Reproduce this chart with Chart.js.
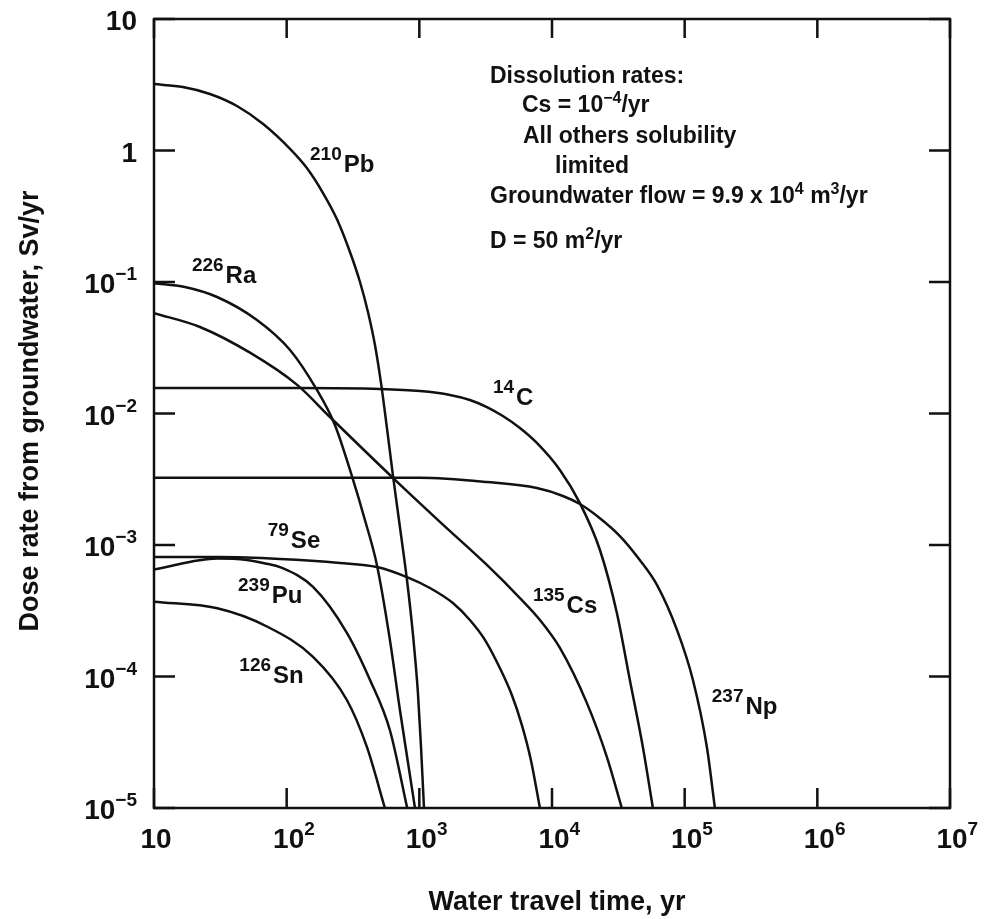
<!DOCTYPE html>
<html>
<head>
<meta charset="utf-8">
<title>Dose rate from groundwater</title>
<script src="https://cdn.jsdelivr.net/npm/chart.js@4.4.1/dist/chart.umd.min.js"></script>
<style>
  html, body { margin: 0; padding: 0; background: #fff; }
  #wrap { width: 986px; height: 919px; }
</style>
</head>
<body>
<div id="wrap"><canvas id="myChart" width="986" height="919"></canvas></div>
<script>
// water travel time (yr) vs dose rate (Sv/yr)
const pb210Time = [10, 16.5, 26.4, 42.2, 66.5, 106, 142, 188, 239, 300, 357, 410, 463, 514, 570, 632, 714, 807, 896, 976, 1028, 1084];
const pb210Dose = [3.2, 3.04, 2.69, 2.18, 1.59, 1.03, 0.736, 0.475, 0.301, 0.169, 0.1, 0.0592, 0.0332, 0.0171, 0.00776, 0.0034, 0.00137, 5.42e-4, 2.07e-4, 7.5e-5, 3.0e-5, 1e-5];

const ra226Time = [10, 17.1, 29.9, 59.7, 106, 169, 231, 310, 389, 479, 600, 714, 820, 927];
const ra226Dose = [0.098, 0.0916, 0.0769, 0.0514, 0.0304, 0.0151, 0.00818, 0.00335, 0.00155, 7.05e-4, 1.9e-4, 5.56e-5, 2.24e-5, 1e-5];

const cs135Time = [10, 22.2, 52.9, 120, 212, 632, 1429, 3230, 5730, 8110, 11470, 18300, 25900, 33600];
const cs135Dose = [0.058, 0.0455, 0.029, 0.0165, 0.0094, 0.00324, 0.0015, 7.05e-4, 3.95e-4, 2.69e-4, 1.65e-4, 6.3e-5, 2.45e-5, 1e-5];

const c14Time = [10, 126, 505, 1012, 1702, 2404, 3230, 4263, 5730, 7690, 11470, 16230, 22950, 30830, 38620, 48400, 57600];
const c14Dose = [0.0156, 0.0156, 0.01535, 0.0148, 0.01383, 0.01267, 0.0112, 0.00957, 0.00776, 0.00597, 0.00372, 0.00208, 9.2e-4, 3.04e-4, 9.4e-5, 2.91e-5, 1e-5];

const np237Time = [10, 1012, 3230, 7690, 12080, 16230, 22950, 32500, 45900, 61800, 87500, 115400, 147000, 169000];
const np237Dose = [0.00324, 0.00324, 0.00301, 0.00271, 0.00236, 0.00205, 0.0016, 0.00117, 7.69e-4, 4.97e-4, 2.26e-4, 9.4e-5, 2.91e-5, 1e-5];

const se79Time = [10, 31.4, 89, 252, 479, 807, 1202, 1790, 2404, 3120, 4045, 4990, 5930, 6930, 8110];
const se79Dose = [8.1e-4, 8.1e-4, 7.83e-4, 7.3e-4, 6.8e-4, 5.7e-4, 4.71e-4, 3.62e-4, 2.69e-4, 1.9e-4, 1.16e-4, 7.2e-5, 4.27e-5, 2.32e-5, 1e-5];

const pu239Time = [10, 30, 50, 71, 89, 158, 285, 425, 600, 810];
const pu239Dose = [6.5e-4, 7.9e-4, 7.7e-4, 7.2e-4, 6.8e-4, 4.8e-4, 2.14e-4, 9.4e-5, 3.9e-5, 1e-5];

const sn126Time = [10, 30, 71, 158, 285, 403, 550];
const sn126Dose = [3.7e-4, 3.3e-4, 2.4e-4, 1.41e-4, 6.6e-5, 2.9e-5, 1e-5];

// curve labels: mass number, element, and where the label sits (data units)
const nuclideMass = ["210", "226", "14", "79", "239", "126", "135", "237"];
const nuclideSymbol = ["Pb", "Ra", "C", "Se", "Pu", "Sn", "Cs", "Np"];
const labelTime = [150, 19.3, 3590, 72, 43, 44, 7180, 160000];
const labelDose = [0.687, 0.098, 0.0116, 9.5e-4, 3.62e-4, 8.9e-5, 3.04e-4, 5.2e-5];

// axis decades and their labels (base, exponent)
const xDecades = [10, 100, 1e3, 1e4, 1e5, 1e6, 1e7];
const xTickLabels = [["10", ""], ["10", "2"], ["10", "3"], ["10", "4"], ["10", "5"], ["10", "6"], ["10", "7"]];
const yDecades = [10, 1, 0.1, 0.01, 1e-3, 1e-4, 1e-5];
const yTickLabels = [["10", ""], ["1", ""], ["10", "\u22121"], ["10", "\u22122"], ["10", "\u22123"], ["10", "\u22124"], ["10", "\u22125"]];

const FAMILY = '"Liberation Sans", Arial, sans-serif';
const font = (px) => "bold " + px + "px " + FAMILY;

function curve(times, doses) {
  return {
    data: times.map((t, i) => ({ x: t, y: doses[i] })),
    showLine: true,
    borderColor: "#111",
    borderWidth: 2.5,
    pointRadius: 0,
    fill: false,
    cubicInterpolationMode: "monotone",
  };
}

// draw a run of [text, isSuperscript] parts, returns width
function runs(ctx, parts, size, supSize, raise, x, y, draw) {
  let cx = x;
  parts.forEach(([t, sup]) => {
    ctx.font = font(sup ? supSize : size);
    if (draw) ctx.fillText(t, cx, sup ? y - raise : y);
    cx += ctx.measureText(t).width;
  });
  return cx - x;
}

const decor = {
  id: "decor",
  afterDatasetsDraw(chart) {
    const { ctx, chartArea: a, scales: { x, y } } = chart;
    ctx.save();
    ctx.strokeStyle = "#111";
    ctx.fillStyle = "#111";
    ctx.lineWidth = 2.5;
    ctx.strokeRect(a.left, a.top, a.right - a.left, a.bottom - a.top);

    // inward ticks on all four sides
    ctx.beginPath();
    yDecades.forEach((v) => {
      const py = y.getPixelForValue(v);
      ctx.moveTo(a.left, py); ctx.lineTo(a.left + 21, py);
      ctx.moveTo(a.right, py); ctx.lineTo(a.right - 21, py);
    });
    xDecades.forEach((v) => {
      const px = x.getPixelForValue(v);
      ctx.moveTo(px, a.top); ctx.lineTo(px, a.top + 19);
      ctx.moveTo(px, a.bottom); ctx.lineTo(px, a.bottom - 20);
    });
    ctx.stroke();

    ctx.textAlign = "left";
    ctx.textBaseline = "alphabetic";

    // y tick labels
    yDecades.forEach((v, i) => {
      const py = y.getPixelForValue(v);
      const parts = [[yTickLabels[i][0], false], [yTickLabels[i][1], true]];
      const w = runs(ctx, parts, 28, 19, 13, 0, 0, false);
      runs(ctx, parts, 28, 19, 13, a.left - 17 - w, py + 11, true);
    });

    // x tick labels: base centred on the tick, exponent after it
    xDecades.forEach((v, i) => {
      const px = x.getPixelForValue(v);
      ctx.font = font(28);
      const bw = ctx.measureText(xTickLabels[i][0]).width;
      runs(ctx, [[xTickLabels[i][0], false], [xTickLabels[i][1], true]], 28, 19, 13, px + 2 - bw / 2, a.bottom + 40, true);
    });

    // axis titles
    ctx.font = font(27);
    ctx.textAlign = "center";
    ctx.fillText("Water travel time, yr", 557, 910);
    ctx.save();
    ctx.translate(38, 411);
    ctx.rotate(-Math.PI / 2);
    ctx.fillText("Dose rate from groundwater, Sv/yr", 0, 0);
    ctx.restore();
    ctx.textAlign = "left";

    // curve labels
    nuclideMass.forEach((m, i) => {
      const px = x.getPixelForValue(labelTime[i]);
      const py = y.getPixelForValue(labelDose[i]);
      ctx.font = font(19);
      ctx.fillText(m, px, py - 12);
      const w = ctx.measureText(m).width;
      ctx.font = font(24);
      ctx.fillText(nuclideSymbol[i], px + w + 2, py);
    });

    // parameter notes
    const notes = [
      [490, 83, [["Dissolution rates:", false]]],
      [522, 112, [["Cs = 10", false], ["\u22124", true], ["/yr", false]]],
      [523, 143, [["All others solubility", false]]],
      [555, 173, [["limited", false]]],
      [490, 203, [["Groundwater flow = 9.9 x 10", false], ["4", true], [" m", false], ["3", true], ["/yr", false]]],
      [490, 248, [["D = 50 m", false], ["2", true], ["/yr", false]]],
    ];
    notes.forEach(([nx, ny, parts]) => runs(ctx, parts, 23, 16, 9, nx, ny, true));

    ctx.restore();
  },
};

const ctx = document.getElementById("myChart");

new Chart(ctx, {
  type: "scatter",
  data: {
    datasets: [
      curve(pb210Time, pb210Dose),
      curve(ra226Time, ra226Dose),
      curve(cs135Time, cs135Dose),
      curve(c14Time, c14Dose),
      curve(np237Time, np237Dose),
      curve(se79Time, se79Dose),
      curve(pu239Time, pu239Dose),
      curve(sn126Time, sn126Dose),
    ],
  },
  options: {
    responsive: false,
    animation: false,
    layout: { padding: { left: 154, right: 36, top: 19, bottom: 111 } },
    scales: {
      x: { type: "logarithmic", min: 10, max: 1e7, display: false },
      y: { type: "logarithmic", min: 1e-5, max: 10, display: false },
    },
    plugins: {
      legend: { display: false },
      tooltip: { enabled: false },
    },
  },
  plugins: [decor],
});
</script>
</body>
</html>
